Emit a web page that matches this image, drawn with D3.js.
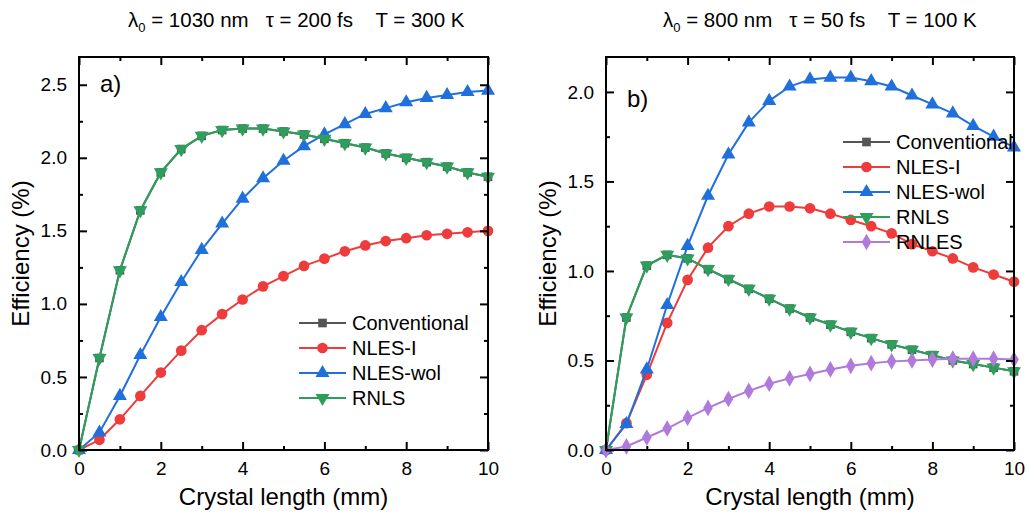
<!DOCTYPE html>
<html>
<head>
<meta charset="utf-8">
<script src="https://cdn.jsdelivr.net/npm/d3@7"></script>
<style>
  body { margin: 0; background: #fff; }
  text { font-family: Arial, "Liberation Sans", sans-serif; }
</style>
</head>
<body>
<div id="chart"></div>
<script>
// crystal length (mm), same grid for every curve
const lengths = d3.range(0, 10.01, 0.5);

// panel a) lambda0 = 1030 nm, tau = 200 fs, T = 300 K
const aConventional = [0, 0.63, 1.23, 1.64, 1.90, 2.06, 2.15, 2.19, 2.20, 2.20, 2.18, 2.16, 2.13, 2.10, 2.07, 2.03, 2.00, 1.97, 1.94, 1.90, 1.87];
const aNLESI = [0, 0.07, 0.21, 0.37, 0.53, 0.68, 0.82, 0.93, 1.03, 1.12, 1.19, 1.26, 1.31, 1.36, 1.40, 1.43, 1.45, 1.47, 1.48, 1.49, 1.50];
const aNLESwol = [0, 0.12, 0.37, 0.65, 0.91, 1.15, 1.37, 1.55, 1.72, 1.86, 1.98, 2.08, 2.16, 2.23, 2.30, 2.34, 2.38, 2.41, 2.43, 2.45, 2.46];
const aRNLS = [0, 0.63, 1.23, 1.64, 1.90, 2.06, 2.15, 2.19, 2.20, 2.20, 2.18, 2.16, 2.13, 2.10, 2.07, 2.03, 2.00, 1.97, 1.94, 1.90, 1.87];

// panel b) lambda0 = 800 nm, tau = 50 fs, T = 100 K
const bConventional = [0, 0.74, 1.03, 1.09, 1.07, 1.01, 0.955, 0.90, 0.845, 0.79, 0.74, 0.70, 0.66, 0.625, 0.59, 0.56, 0.53, 0.50, 0.48, 0.46, 0.44];
const bNLESI = [0, 0.15, 0.42, 0.71, 0.95, 1.13, 1.25, 1.32, 1.36, 1.36, 1.35, 1.32, 1.285, 1.25, 1.21, 1.15, 1.11, 1.07, 1.02, 0.98, 0.94];
const bNLESwol = [0, 0.145, 0.45, 0.81, 1.14, 1.42, 1.65, 1.83, 1.95, 2.03, 2.07, 2.08, 2.08, 2.06, 2.03, 1.98, 1.93, 1.88, 1.81, 1.75, 1.69];
const bRNLS = [0, 0.74, 1.03, 1.09, 1.07, 1.01, 0.955, 0.90, 0.845, 0.79, 0.74, 0.70, 0.66, 0.625, 0.59, 0.56, 0.53, 0.50, 0.48, 0.46, 0.44];
const bRNLES = [0, 0.02, 0.07, 0.12, 0.18, 0.235, 0.285, 0.33, 0.37, 0.40, 0.425, 0.45, 0.47, 0.485, 0.495, 0.50, 0.505, 0.51, 0.51, 0.51, 0.505];

const xTicks = [0, 2, 4, 6, 8, 10];
const aYTicks = [0, 0.5, 1.0, 1.5, 2.0, 2.5];
const bYTicks = [0, 0.5, 1.0, 1.5, 2.0];

const styles = {
    "Conventional": { color: "#555555", symbol: d3.symbolSquare, size: 75 },
    "NLES-I": { color: "#EE3B3B", symbol: d3.symbolCircle, size: 90 },
    "NLES-wol": { color: "#1F6FDC", symbol: d3.symbolTriangle, size: 85 },
    "RNLS": { color: "#2E9E5C", symbol: d3.symbolTriangle, size: 85, flip: true },
    "RNLES": { color: "#B07ADC", symbol: d3.symbolDiamond, size: 80 }
};

const W = 1027, H = 518;
const svg = d3.select("#chart").append("svg")
    .attr("width", W)
    .attr("height", H);

function drawPanel(opt) {
    const x = d3.scaleLinear().domain([0, 10]).range([opt.left, opt.right]);
    const y = d3.scaleLinear().domain([0, opt.yMax]).range([450, 57]);
    const g = svg.append("g");

    // the curves
    opt.series.forEach(s => {
        const st = styles[s.name];
        const pts = lengths.map((l, i) => [l, s.values[i]]);
        g.append("path")
            .datum(pts)
            .attr("fill", "none")
            .attr("stroke", st.color)
            .attr("stroke-width", 2)
            .attr("d", d3.line().x(d => x(d[0])).y(d => y(d[1])));
        g.selectAll(null)
            .data(pts)
            .enter()
            .append("path")
            .attr("d", d3.symbol().type(st.symbol).size(st.size))
            .attr("transform", d => `translate(${x(d[0])},${y(d[1])})` + (st.flip ? " rotate(180)" : ""))
            .attr("fill", st.color);
    });

    // frame with inward ticks on all four sides
    const minorX = d3.range(1, 10, 2);
    const minorY = d3.range(0.25, opt.yMax, 0.5);
    g.append("g")
        .attr("transform", "translate(0,450)")
        .call(d3.axisBottom(x).tickValues(xTicks).tickSize(-8).tickPadding(12).tickFormat(d3.format("d")))
        .call(a => a.select(".domain").remove())
        .call(a => a.selectAll("text").attr("font-size", 19).attr("fill", "#000"));
    g.append("g")
        .attr("transform", "translate(0,450)")
        .call(d3.axisBottom(x).tickValues(minorX).tickSize(-4).tickFormat(""))
        .call(a => a.select(".domain").remove());
    g.append("g")
        .attr("transform", "translate(0,57)")
        .call(d3.axisTop(x).tickValues(xTicks).tickSize(-8).tickFormat(""))
        .call(a => a.select(".domain").remove());
    g.append("g")
        .attr("transform", "translate(0,57)")
        .call(d3.axisTop(x).tickValues(minorX).tickSize(-4).tickFormat(""))
        .call(a => a.select(".domain").remove());
    g.append("g")
        .attr("transform", `translate(${opt.left},0)`)
        .call(d3.axisLeft(y).tickValues(opt.yTicks).tickSize(-8).tickPadding(12).tickFormat(d3.format(".1f")))
        .call(a => a.select(".domain").remove())
        .call(a => a.selectAll("text").attr("font-size", 19).attr("fill", "#000"));
    g.append("g")
        .attr("transform", `translate(${opt.left},0)`)
        .call(d3.axisLeft(y).tickValues(minorY).tickSize(-4).tickFormat(""))
        .call(a => a.select(".domain").remove());
    g.append("g")
        .attr("transform", `translate(${opt.right},0)`)
        .call(d3.axisRight(y).tickValues(opt.yTicks).tickSize(-8).tickFormat(""))
        .call(a => a.select(".domain").remove());
    g.append("g")
        .attr("transform", `translate(${opt.right},0)`)
        .call(d3.axisRight(y).tickValues(minorY).tickSize(-4).tickFormat(""))
        .call(a => a.select(".domain").remove());
    g.selectAll(".tick line").attr("stroke", "#000").attr("stroke-width", 2);
    g.append("rect")
        .attr("x", opt.left)
        .attr("y", 57)
        .attr("width", opt.right - opt.left)
        .attr("height", 450 - 57)
        .attr("fill", "none")
        .attr("stroke", "#000")
        .attr("stroke-width", 2);

    // legend
    opt.series.forEach((s, i) => {
        const st = styles[s.name];
        const ly = opt.legY + i * 25;
        g.append("line")
            .attr("x1", opt.legX).attr("x2", opt.legX + 47)
            .attr("y1", ly).attr("y2", ly)
            .attr("stroke", st.color).attr("stroke-width", 2);
        g.append("path")
            .attr("d", d3.symbol().type(st.symbol).size(st.size))
            .attr("transform", `translate(${opt.legX + 23.5},${ly})` + (st.flip ? " rotate(180)" : ""))
            .attr("fill", st.color);
        g.append("text")
            .attr("x", opt.legX + 53)
            .attr("y", ly + 7)
            .attr("font-size", 20)
            .text(s.name);
    });

    // labels
    g.append("text")
        .attr("x", opt.left + 21).attr("y", opt.tagY)
        .attr("font-size", 24)
        .text(opt.tag);
    const title = g.append("text")
        .attr("x", opt.titleX).attr("y", 27)
        .attr("font-size", 20.5);
    title.append("tspan").text("λ");
    title.append("tspan").attr("font-size", 13).attr("dy", 5).text("0");
    title.append("tspan").attr("dy", -5).attr("xml:space", "preserve").text(opt.title);
    g.append("text")
        .attr("x", (opt.left + opt.right) / 2).attr("y", 505)
        .attr("text-anchor", "middle")
        .attr("font-size", 24)
        .text("Crystal length (mm)");
    g.append("text")
        .attr("transform", `translate(${opt.left - 50},${(450 + 57) / 2}) rotate(-90)`)
        .attr("text-anchor", "middle")
        .attr("font-size", 24)
        .text("Efficiency (%)");
}

drawPanel({
    left: 79, right: 488, yMax: 2.69, yTicks: aYTicks,
    series: [
        { name: "Conventional", values: aConventional },
        { name: "NLES-I", values: aNLESI },
        { name: "NLES-wol", values: aNLESwol },
        { name: "RNLS", values: aRNLS }
    ],
    legX: 299, legY: 323,
    tag: "a)", tagY: 92,
    titleX: 128, title: " = 1030 nm   τ = 200 fs    T = 300 K"
});

drawPanel({
    left: 606, right: 1014, yMax: 2.195, yTicks: bYTicks,
    series: [
        { name: "Conventional", values: bConventional },
        { name: "NLES-I", values: bNLESI },
        { name: "NLES-wol", values: bNLESwol },
        { name: "RNLS", values: bRNLS },
        { name: "RNLES", values: bRNLES }
    ],
    legX: 843, legY: 142,
    tag: "b)", tagY: 107,
    titleX: 663, title: " = 800 nm   τ = 50 fs    T = 100 K"
});
</script>
</body>
</html>
